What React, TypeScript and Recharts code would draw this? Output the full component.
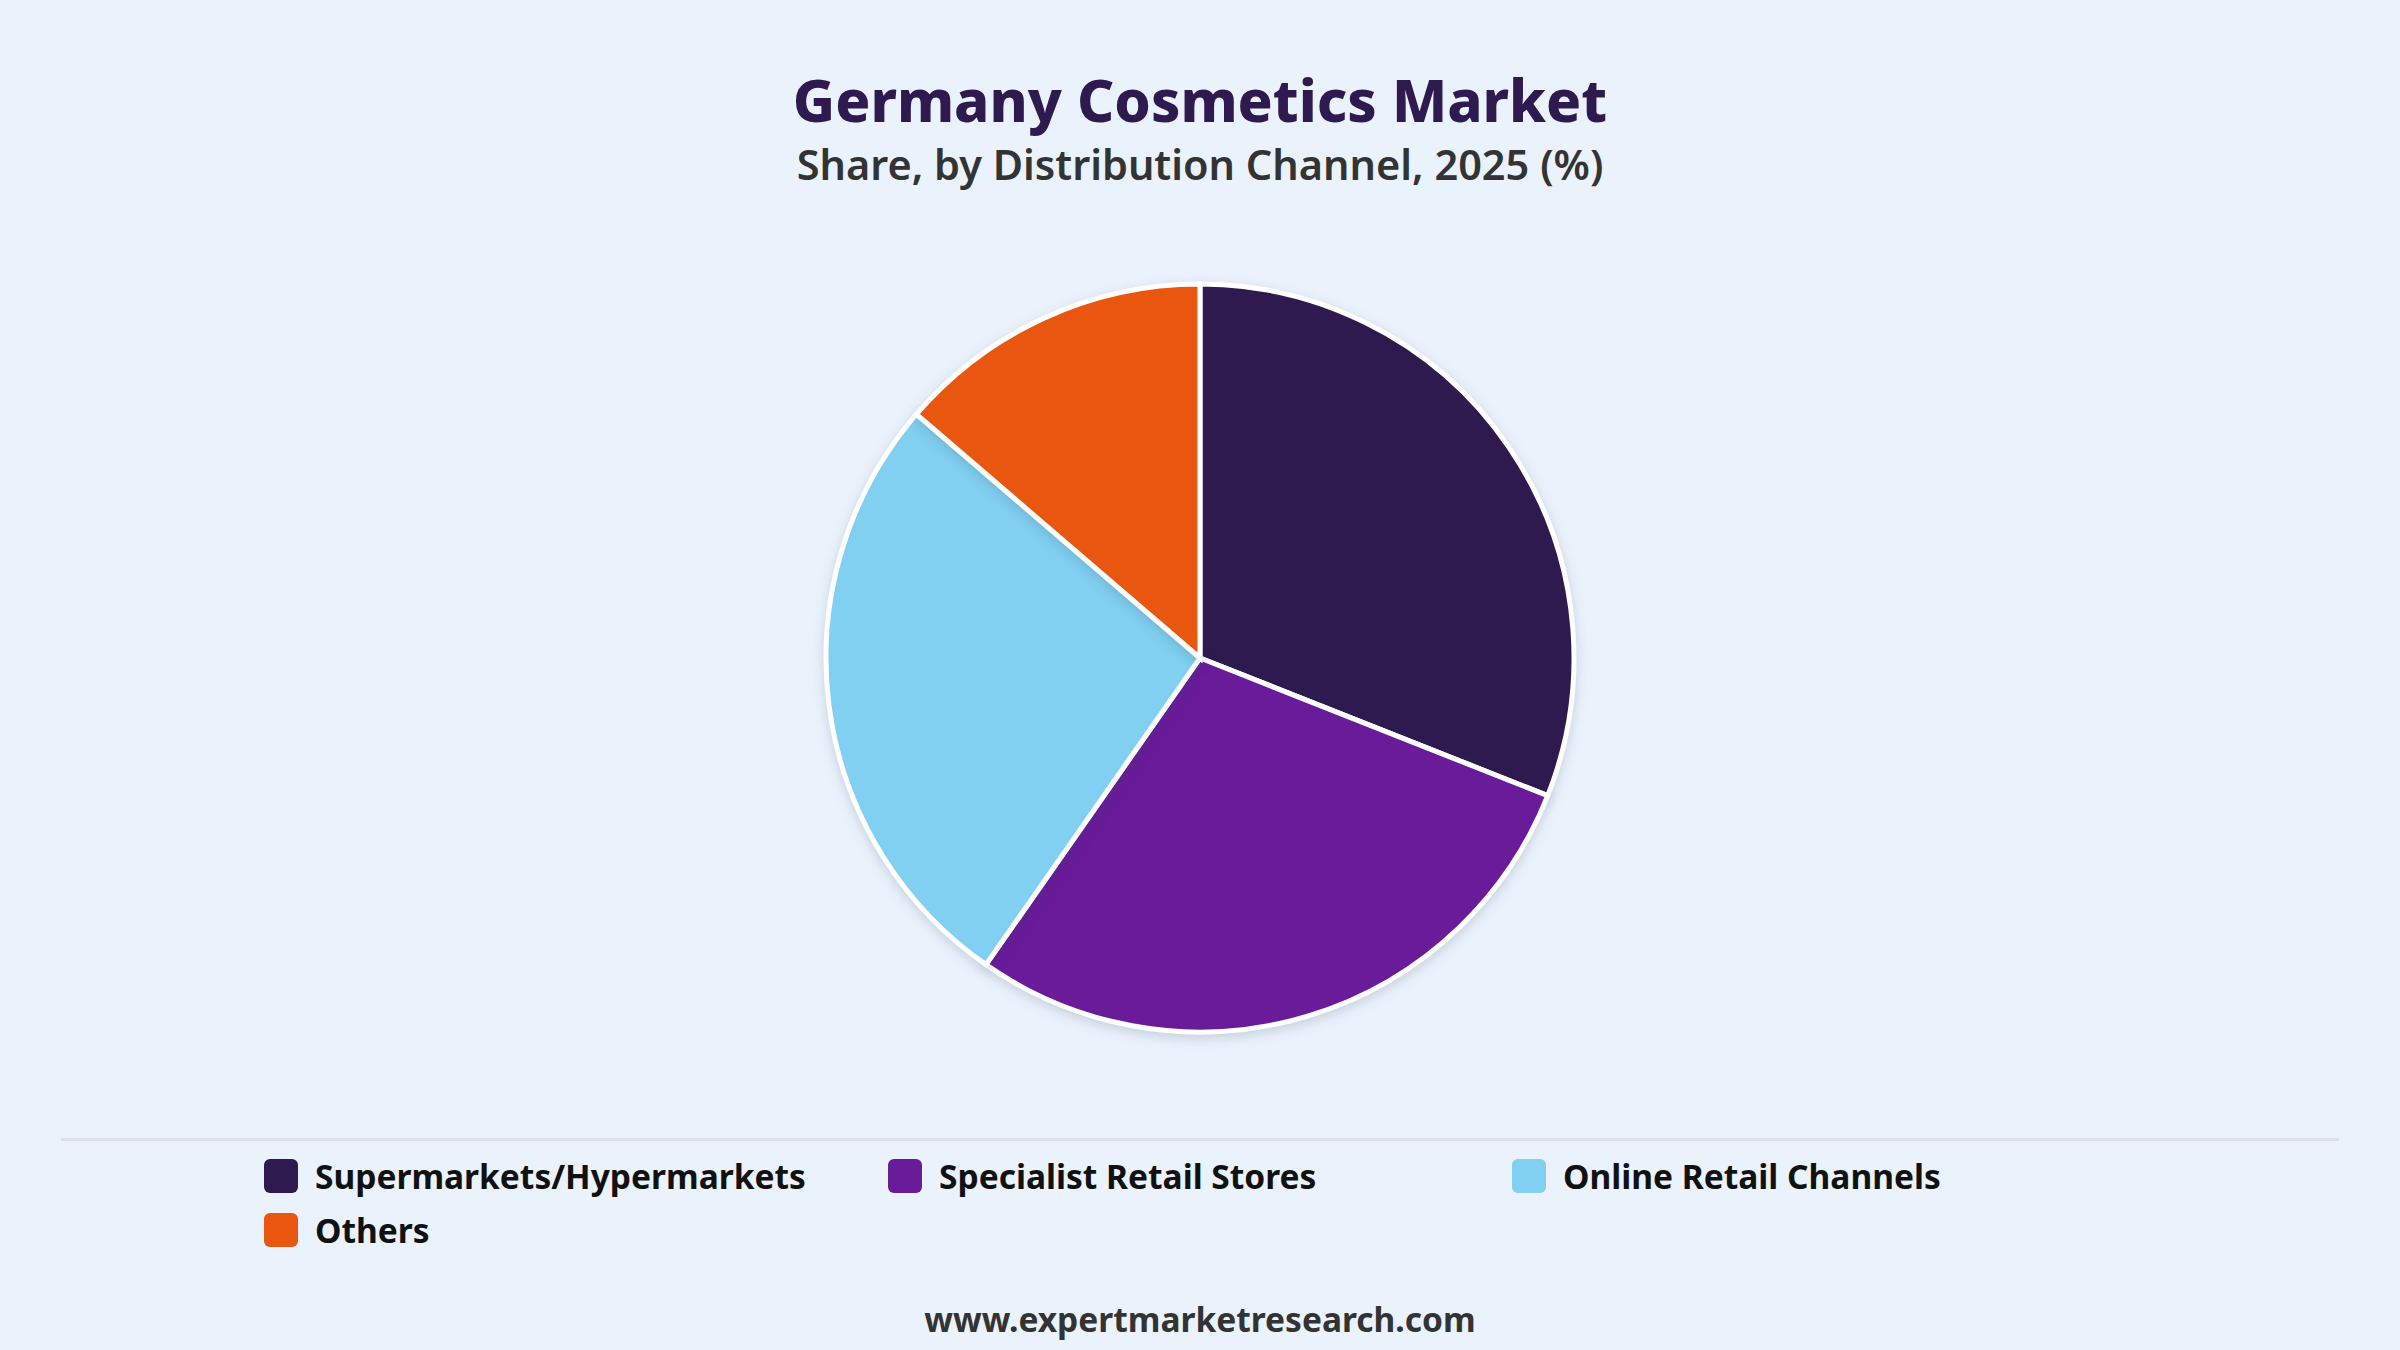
import { Cell, Legend, Pie, PieChart } from 'recharts';

const channels = [
  'Supermarkets/Hypermarkets',
  'Specialist Retail Stores',
  'Online Retail Channels',
  'Others'
];
const shares = [31.0, 28.7, 26.6, 13.7];
const colors = ['#2E1A4F', '#6A1B9A', '#81CFF1', '#E8560F'];

const data = channels.map((name, i) => ({ name, value: shares[i] }));

const font = '"Noto Sans", "Open Sans", sans-serif';

function ChannelLegend() {
  return (
    <div style={{ width: 2400 }}>
      <div style={{ margin: '0 61px', borderTop: '3px solid #DCE0E6' }} />
      <div
        style={{
          display: 'grid',
          gridTemplateColumns: 'repeat(3, 624px)',
          width: 1872,
          margin: '17px auto 0',
          rowGap: 18
        }}
      >
        {channels.map((name, i) => (
          <div key={name} style={{ display: 'flex', alignItems: 'center', height: 36 }}>
            <span
              style={{
                width: 34,
                height: 34,
                borderRadius: 6,
                background: colors[i],
                marginRight: 17,
                flexShrink: 0
              }}
            />
            <span style={{ fontFamily: font, fontWeight: 700, fontSize: 33.5, color: '#111' }}>
              {name}
            </span>
          </div>
        ))}
      </div>
    </div>
  );
}

function App() {
  return (
    <div
      style={{
        position: 'fixed',
        top: 0,
        left: 0,
        width: 2400,
        height: 1350,
        background: '#EAF2FC',
        overflow: 'hidden'
      }}
    >
      <div
        style={{
          position: 'absolute',
          top: 66,
          width: 2400,
          textAlign: 'center',
          fontFamily: font,
          fontWeight: 800,
          fontSize: 58,
          color: '#2E1A4F',
          lineHeight: '68px'
        }}
      >
        Germany Cosmetics Market
      </div>
      <div
        style={{
          position: 'absolute',
          top: 139,
          width: 2400,
          textAlign: 'center',
          fontFamily: font,
          fontWeight: 600,
          fontSize: 41.5,
          color: '#333333',
          lineHeight: '50px'
        }}
      >
        Share, by Distribution Channel, 2025 (%)
      </div>

      <div style={{ position: 'absolute', top: 0, left: 0 }}>
        <PieChart width={2400} height={1350} margin={{ top: 0, right: 0, bottom: 0, left: 0 }}>
          <Pie
            data={data}
            dataKey='value'
            nameKey='name'
            cx={1200}
            cy={658}
            outerRadius={374}
            startAngle={90}
            endAngle={-270}
            stroke='#FFFFFF'
            strokeWidth={5}
            isAnimationActive={false}
            style={{ filter: 'drop-shadow(0px 4px 6px rgba(40, 60, 90, 0.18))' }}
          >
            {data.map((d, i) => (
              <Cell key={d.name} fill={colors[i]} />
            ))}
          </Pie>
          <Legend
            content={() => <ChannelLegend />}
            wrapperStyle={{ position: 'absolute', top: 1138, left: 0, width: 2400 }}
          />
        </PieChart>
      </div>

      <div
        style={{
          position: 'absolute',
          top: 1297,
          width: 2400,
          textAlign: 'center',
          fontFamily: font,
          fontWeight: 700,
          fontSize: 33.5,
          color: '#333333',
          lineHeight: '44px'
        }}
      >
        www.expertmarketresearch.com
      </div>
    </div>
  );
}

export default App;
